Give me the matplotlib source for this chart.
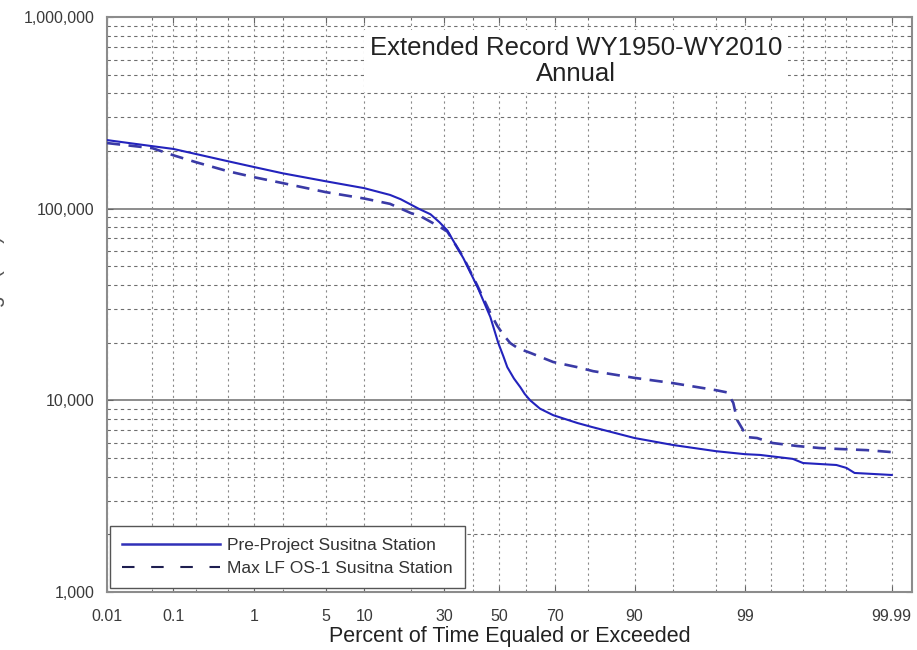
import numpy as np
import matplotlib
matplotlib.use('Agg')
import matplotlib.pyplot as plt
from matplotlib.lines import Line2D
from matplotlib.ticker import FixedLocator, FuncFormatter, LogLocator, NullFormatter
from statistics import NormalDist

plt.rcParams['font.family'] = ['Liberation Sans', 'DejaVu Sans']

# Flow duration data (percent exceeded, flow in cfs)
pre_pct = [0.01, 0.05, 0.1, 0.2, 0.5, 1, 2, 5, 10, 15, 17.5, 20.5, 22.2, 25.7,
           28.5, 31.1, 36.7, 41.8, 46.6, 49.6, 51.5, 53, 55.5, 57.9, 59.5, 61.5,
           65, 69.5, 77, 81, 90, 95, 98, 99, 99.33, 99.73, 99.8, 99.93, 99.95,
           99.962, 99.99]
pre_flow = [228000, 212000, 205000, 193000, 177000, 165000, 153000, 139000,
            128000, 118000, 112000, 104000, 100000, 93500, 85000, 77000, 55000,
            39000, 27200, 19900, 17000, 14900, 13000, 11700, 10800, 10000,
            9050, 8370, 7620, 7260, 6360, 5850, 5430, 5240, 5190, 4950, 4710,
            4600, 4440, 4180, 4080]

maxlf_pct = [0.01, 0.05, 0.1, 0.2, 0.5, 1, 2, 5, 10, 15, 20, 22.7, 28.8, 31.1,
             36.7, 41.8, 46.6, 49.2, 51.5, 54.1, 57, 61.5, 69.5, 77, 81.3, 90,
             95, 98, 98.46, 98.67, 98.79, 99.06, 99.27, 99.52, 99.76, 99.88,
             99.94, 99.975, 99.99]
maxlf_flow = [220000, 207000, 190000, 175000, 157000, 146000, 136000, 122000,
              113000, 106000, 95000, 91500, 80000, 76000, 55500, 39500, 28500,
              24500, 22000, 19900, 18700, 17700, 15850, 14900, 14200, 13100,
              12300, 11300, 11000, 9700, 7900, 6430, 6360, 5990, 5780, 5640,
              5570, 5500, 5370]

series_labels = ['Pre-Project Susitna Station', 'Max LF OS-1 Susitna Station']

label_pct = [0.01, 0.1, 1, 5, 10, 30, 50, 70, 90, 99, 99.99]
grid_pct = [0.05, 0.2, 0.5, 2, 20, 40, 60, 80, 95, 98, 99.5, 99.8, 99.9, 99.95]

# probability scale: plot against the normal quantile
nd = NormalDist()
def prob(p):
    return np.array([nd.inv_cdf(v / 100.0) for v in np.atleast_1d(p)])

fig = plt.figure(figsize=(9.17, 6.5), dpi=100)
ax = fig.add_axes([0.1167, 0.0892, 0.8778, 0.8846])

ax.plot(prob(pre_pct), pre_flow, color='#2323bd', lw=1.5, zorder=4)
ax.plot(prob(maxlf_pct), maxlf_flow, color='#3a3aa6', lw=1.9,
        dashes=(5, 3.2), zorder=3)

ax.set_yscale('log')
ax.set_ylim(1000, 1000000)
ax.set_xlim(prob(0.01)[0], 3.911)

# axes ticks
ax.xaxis.set_major_locator(FixedLocator(prob(label_pct)))
ax.xaxis.set_minor_locator(FixedLocator(prob(grid_pct)))
ax.set_xticklabels([f'{v:g}' for v in label_pct])
ax.yaxis.set_major_locator(LogLocator(base=10))
ax.yaxis.set_minor_locator(LogLocator(base=10, subs=np.arange(2, 10)))
ax.yaxis.set_major_formatter(FuncFormatter(lambda v, pos: f'{v:,.0f}'))
ax.yaxis.set_minor_formatter(NullFormatter())

ax.tick_params(which='both', direction='in', top=True, right=True, color='#666666')
ax.tick_params(which='major', length=4, labelsize=11.5, labelcolor='#3a3a3a')
ax.tick_params(which='minor', length=2.5)
ax.tick_params(axis='x', pad=12)
ax.tick_params(axis='y', pad=9)

# grid lines
ax.grid(which='major', axis='y', color='#8c8c8c', lw=1.4, ls='-')
ax.grid(which='minor', axis='y', color='#6e6e6e', lw=0.8, ls=(0, (3, 3)))
ax.grid(which='both', axis='x', color='#8a8a8a', lw=0.8, ls=(0, (2, 3)))

for s in ax.spines.values():
    s.set_color('#8c8c8c')
    s.set_linewidth(1.5)

# title box
ax.text(0.5826, 0.9235, 'Extended Record WY1950-WY2010\nAnnual', transform=ax.transAxes,
        ha='center', va='center', fontsize=18.5, color='#222222', linespacing=1.1,
        bbox=dict(facecolor='white', edgecolor='none', pad=4), zorder=6)

ax.set_xlabel('Percent of Time Equaled or Exceeded', fontsize=15.5, color='#222222', labelpad=2)
# y label sits partly off the left edge, as in the original
fig.text(-0.006, 0.526, 'Discharge (cfs)', rotation=90, ha='center', va='center',
         fontsize=15.5, color='#555555')

# legend
handles = [Line2D([], [], color='#3030b8', lw=1.8),
           Line2D([], [], color='#1e1e50', lw=1.5, dashes=(6, 8))]
leg = ax.legend(handles, series_labels, loc='lower left', bbox_to_anchor=(0.004, 0.007),
                fontsize=12.5, handlelength=5.6, handletextpad=0.45, borderpad=0.7,
                labelspacing=0.45, fancybox=False, framealpha=1, borderaxespad=0)
leg.get_frame().set_edgecolor('#555555')
leg.get_frame().set_linewidth(1.0)
for t in leg.get_texts():
    t.set_color('#333333')
leg.set_zorder(7)

fig.savefig('out.png', dpi=100)
